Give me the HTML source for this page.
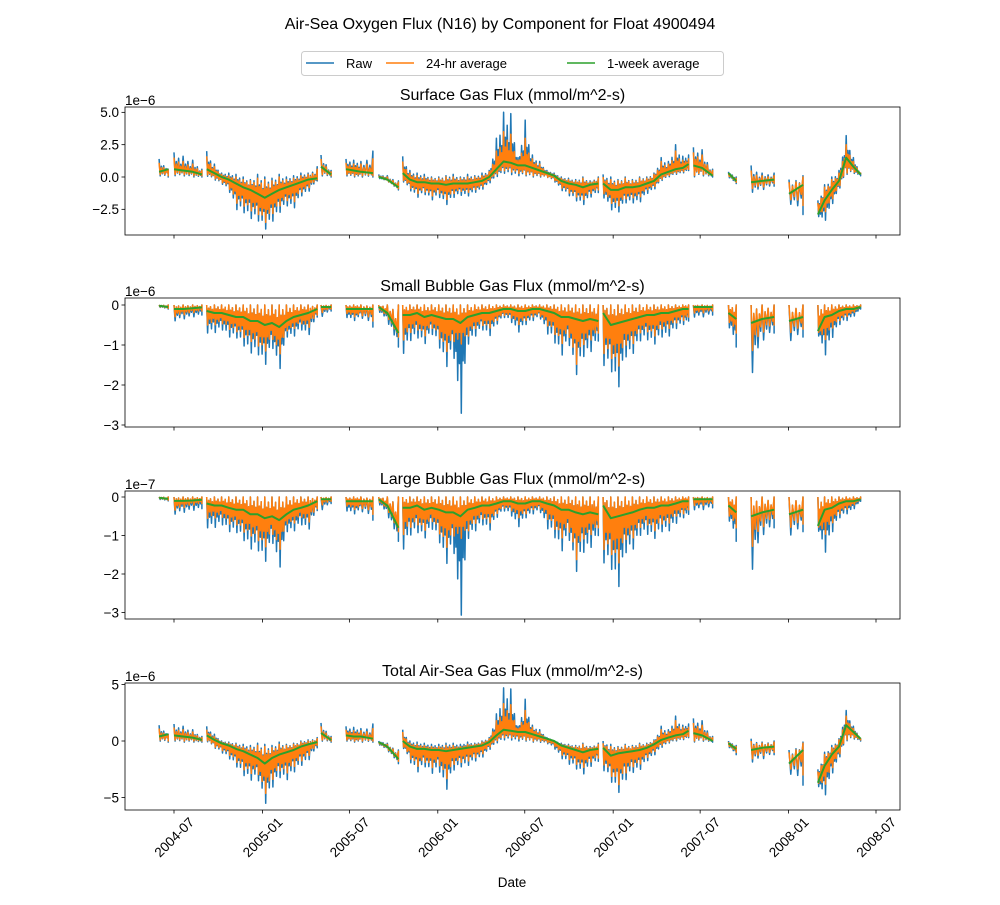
<!DOCTYPE html>
<html><head><meta charset="utf-8"><style>
body{margin:0;background:#fff}
svg text{font-family:"Liberation Sans","DejaVu Sans",sans-serif;fill:#000}
</style></head><body>
<svg id="fig" width="1000" height="900" viewBox="0 0 1000 900" xmlns="http://www.w3.org/2000/svg">
<rect width="1000" height="900" fill="#fff"/>
<text x="500" y="29" font-size="16" text-anchor="middle">Air-Sea Oxygen Flux (N16) by Component for Float 4900494</text>
<g>
<rect x="301.5" y="51.5" width="422" height="24" rx="3" fill="#fff" stroke="#ccc"/>
<g><line x1="306" y1="63" x2="334" y2="63" stroke="#1f77b4" stroke-width="1.5"/><text x="346" y="68" font-size="13">Raw</text></g>
<g><line x1="386" y1="63" x2="414" y2="63" stroke="#ff7f0e" stroke-width="1.5"/><text x="426" y="68" font-size="13">24-hr average</text></g>
<g><line x1="567" y1="63" x2="595" y2="63" stroke="#2ca02c" stroke-width="1.5"/><text x="607" y="68" font-size="13">1-week average</text></g>
</g>
<text x="512" y="887" font-size="13.5" text-anchor="middle">Date</text>
</svg>
<script>
// sample days since 2004-05-31; null marks gaps
const days=[0,19,null,
31,50,70,89,null,
99,115,130,145,160,175,190,205,220,235,250,265,280,295,310,329,null,
337,358,null,
389,405,420,445,null,
457,475,498,null,
507,522,537,552,567,582,597,612,627,642,657,672,687,702,717,732,747,762,777,792,807,822,837,852,867,882,897,914,null,
924,940,955,970,985,1000,1015,1030,1045,1060,1075,1090,1102,null,
1112,1130,1152,null,
1185,1201,null,
1232,1255,1280,null,
1311,1340,null,
1371,1385,1400,1415,1430,1445,1460];
const tickDays=[31,215,396,580,761,945,1126,1310,1492];
const tickLabels=["2004-07","2005-01","2005-07","2006-01","2006-07","2007-01","2007-07","2008-01","2008-07"];

// Surface flux (1e-6)
const surfRawHi=[1.4,0.6,null,1.9,1.6,1.3,0.6,null,
2.0,1.0,0.3,0.3,0.2,0.0,-0.2,0.2,0.0,-0.1,0.2,0.0,0.1,0.3,0.3,0.8,null,
1.7,0.5,null,1.4,1.3,1.2,2.0,null,0.2,0.1,-0.3,null,
1.6,0.5,0.3,0.2,0.0,0.0,0.1,0.2,0.0,0.2,0.1,0.3,0.5,3.0,5.0,4.9,1.5,4.4,1.7,1.2,0.5,0.3,0.0,-0.1,-0.2,0.0,-0.3,0.0,null,
0.2,0.0,-0.2,0.0,-0.2,0.0,0.0,0.3,1.5,1.2,2.5,1.6,1.7,null,
2.3,2.1,0.6,null,0.4,0.0,null,0.9,0.3,0.3,null,-0.2,0.1,null,
-1.8,-0.6,0.0,0.5,3.2,1.5,0.3];
const surfRawLo=[0.1,0.0,null,0.1,0.1,0.0,0.0,null,
0.1,-0.2,-0.5,-1.0,-2.5,-2.7,-3.2,-3.3,-4.1,-3.5,-2.8,-2.2,-2.5,-1.5,-1.2,-0.3,null,
0.1,0.0,null,0.1,0.0,0.0,0.0,null,-0.1,-0.3,-1.0,null,
-0.3,-1.0,-1.6,-1.3,-1.8,-1.5,-2.2,-1.6,-1.4,-1.5,-1.2,-1.0,-0.5,0.0,0.3,0.2,0.1,0.1,0.0,0.0,0.0,-0.3,-1.0,-1.4,-1.8,-2.2,-1.6,-1.2,null,
-1.5,-2.5,-2.8,-2.0,-2.0,-2.0,-1.3,-1.0,-0.3,0.0,0.2,0.3,0.5,null,
0.0,0.1,0.0,null,0.0,-0.5,null,-1.2,-1.0,-0.7,null,-2.0,-2.9,null,
-3.0,-3.5,-2.2,-1.0,0.2,0.3,0.1];
const surfDayHi=[1.1,0.5,null,1.5,1.2,1.0,0.5,null,
1.6,0.8,0.2,0.1,0.0,-0.2,-0.3,-0.1,-0.2,-0.3,0.0,-0.2,-0.1,0.1,0.2,0.6,null,
1.4,0.4,null,1.1,1.0,1.0,1.4,null,0.1,0.0,-0.4,null,
1.2,0.3,0.1,0.0,-0.1,-0.1,0.0,0.0,-0.1,0.0,0.0,0.1,0.4,2.0,3.5,3.3,1.3,3.0,1.4,1.0,0.4,0.2,-0.1,-0.2,-0.3,-0.1,-0.4,-0.1,null,
0.0,-0.2,-0.3,-0.1,-0.3,-0.1,-0.1,0.2,1.2,1.0,2.0,1.3,1.4,null,
1.9,1.7,0.5,null,0.3,-0.1,null,0.5,0.1,0.1,null,-0.4,0.0,null,
-2.0,-0.8,-0.2,0.3,2.5,1.2,0.3];
const surfDayLo=[0.2,0.1,null,0.2,0.2,0.1,0.1,null,
0.2,-0.1,-0.4,-0.8,-2.0,-2.2,-2.6,-2.8,-3.6,-2.9,-2.3,-1.8,-2.0,-1.2,-0.9,-0.2,null,
0.2,0.1,null,0.2,0.1,0.1,0.1,null,0.0,-0.3,-0.9,null,
-0.2,-0.8,-1.3,-1.1,-1.5,-1.2,-1.8,-1.3,-1.1,-1.2,-1.0,-0.8,-0.3,0.2,0.5,0.4,0.3,0.2,0.1,0.1,0.0,-0.2,-0.8,-1.2,-1.5,-1.8,-1.3,-1.0,null,
-1.2,-2.0,-2.3,-1.7,-1.6,-1.6,-1.0,-0.8,-0.2,0.1,0.3,0.4,0.6,null,
0.1,0.2,0.1,null,0.1,-0.4,null,-0.9,-0.8,-0.5,null,-1.7,-2.2,null,
-2.8,-2.8,-1.8,-0.8,0.3,0.4,0.2];
const surfWeek=[0.4,0.6,null,0.6,0.5,0.4,0.2,null,
0.6,0.3,0.0,-0.2,-0.5,-0.8,-1.0,-1.3,-1.6,-1.3,-1.0,-0.8,-0.6,-0.4,-0.2,-0.1,null,
0.8,0.2,null,0.6,0.5,0.4,0.3,null,0.0,-0.2,-0.8,null,
0.3,-0.2,-0.4,-0.4,-0.5,-0.5,-0.6,-0.5,-0.5,-0.5,-0.4,-0.3,0.0,0.6,1.2,1.1,0.9,0.9,0.7,0.5,0.3,0.1,-0.3,-0.5,-0.6,-0.8,-0.6,-0.5,null,
-0.5,-1.0,-1.0,-0.8,-0.8,-0.7,-0.5,-0.3,0.2,0.4,0.6,0.7,1.0,null,
0.9,0.7,0.1,null,0.3,-0.3,null,-0.4,-0.3,-0.2,null,-1.3,-0.6,null,
-2.9,-1.8,-1.0,-0.3,1.5,0.8,0.2];

// Small bubble flux (1e-6)
const smallRawLo=[-0.05,-0.1,null,-0.4,-0.35,-0.3,-0.25,null,
-0.7,-0.7,-0.6,-0.8,-0.8,-1.0,-1.2,-1.2,-1.55,-1.0,-1.7,-0.8,-0.8,-0.6,-0.8,-0.3,null,
-0.3,-0.15,null,-0.3,-0.4,-0.3,-0.55,null,-0.15,-0.4,-1.05,null,
-1.25,-0.9,-0.8,-1.0,-0.7,-1.0,-1.6,-1.1,-2.95,-1.0,-0.8,-0.6,-0.8,-0.5,-0.3,-0.4,-0.7,-0.5,-0.4,-0.3,-0.7,-0.9,-1.3,-0.9,-1.8,-1.3,-1.2,-0.9,null,
-1.5,-1.6,-2.15,-1.3,-1.25,-0.9,-0.85,-1.0,-0.8,-0.8,-0.6,-0.5,-0.4,null,
-0.3,-0.3,-0.25,null,-0.5,-1.05,null,-1.8,-0.9,-0.7,null,-0.9,-0.8,null,
-0.7,-1.3,-0.85,-0.5,-0.4,-0.3,-0.1];
const smallDayLo=[-0.04,-0.08,null,-0.3,-0.25,-0.2,-0.15,null,
-0.5,-0.5,-0.45,-0.6,-0.65,-0.8,-0.9,-1.0,-1.2,-0.8,-1.3,-0.65,-0.6,-0.45,-0.6,-0.25,null,
-0.2,-0.1,null,-0.2,-0.3,-0.25,-0.4,null,-0.1,-0.3,-0.8,null,
-0.9,-0.7,-0.6,-0.8,-0.55,-0.8,-1.2,-0.9,-1.0,-0.8,-0.6,-0.5,-0.6,-0.4,-0.25,-0.3,-0.5,-0.4,-0.3,-0.25,-0.5,-0.7,-1.0,-0.7,-1.55,-1.0,-0.9,-0.7,null,
-1.2,-1.3,-1.6,-1.0,-1.0,-0.7,-0.65,-0.8,-0.6,-0.6,-0.45,-0.4,-0.3,null,
-0.2,-0.2,-0.15,null,-0.4,-0.7,null,-1.2,-0.7,-0.5,null,-0.7,-0.6,null,
-0.65,-0.9,-0.6,-0.4,-0.3,-0.2,-0.05];
const smallWeek=[-0.02,-0.05,null,-0.1,-0.1,-0.08,-0.06,null,
-0.15,-0.2,-0.2,-0.25,-0.3,-0.3,-0.4,-0.4,-0.5,-0.45,-0.55,-0.4,-0.3,-0.25,-0.2,-0.1,null,
-0.05,-0.05,null,-0.1,-0.1,-0.1,-0.1,null,-0.05,-0.2,-0.7,null,
-0.25,-0.25,-0.2,-0.3,-0.25,-0.3,-0.35,-0.35,-0.45,-0.3,-0.25,-0.2,-0.2,-0.15,-0.1,-0.1,-0.15,-0.15,-0.1,-0.1,-0.15,-0.2,-0.3,-0.3,-0.35,-0.4,-0.35,-0.4,null,
-0.2,-0.5,-0.45,-0.4,-0.35,-0.3,-0.25,-0.25,-0.2,-0.2,-0.15,-0.1,-0.1,null,
-0.05,-0.05,-0.05,null,-0.2,-0.35,null,-0.45,-0.35,-0.3,null,-0.4,-0.3,null,
-0.65,-0.3,-0.25,-0.15,-0.1,-0.1,-0.05];

// Large bubble flux (1e-7)
const largeRawLo=[-0.06,-0.1,null,-0.45,-0.4,-0.35,-0.3,null,
-0.8,-0.8,-0.7,-0.9,-0.9,-1.1,-1.35,-1.35,-1.75,-1.1,-1.95,-0.9,-0.9,-0.7,-0.9,-0.35,null,
-0.35,-0.17,null,-0.35,-0.45,-0.35,-0.6,null,-0.17,-0.45,-1.15,null,
-1.4,-1.0,-0.9,-1.1,-0.8,-1.1,-1.8,-1.2,-3.35,-1.1,-0.9,-0.7,-0.9,-0.55,-0.35,-0.45,-0.8,-0.55,-0.45,-0.35,-0.8,-1.0,-1.45,-1.0,-2.0,-1.45,-1.35,-1.0,null,
-1.7,-1.8,-2.45,-1.45,-1.4,-1.0,-0.95,-1.1,-0.9,-0.9,-0.7,-0.55,-0.45,null,
-0.33,-0.33,-0.28,null,-0.55,-1.15,null,-2.0,-1.0,-0.8,null,-1.0,-0.9,null,
-0.8,-1.5,-0.95,-0.55,-0.45,-0.33,-0.11];
const largeDayLo=[-0.04,-0.08,null,-0.35,-0.28,-0.22,-0.17,null,
-0.55,-0.55,-0.5,-0.7,-0.7,-0.9,-1.0,-1.1,-1.35,-0.9,-1.45,-0.7,-0.7,-0.5,-0.7,-0.3,null,
-0.22,-0.11,null,-0.22,-0.33,-0.28,-0.45,null,-0.11,-0.33,-0.9,null,
-1.0,-0.8,-0.7,-0.9,-0.6,-0.9,-1.35,-1.0,-1.1,-0.9,-0.7,-0.55,-0.7,-0.45,-0.28,-0.33,-0.55,-0.45,-0.33,-0.28,-0.55,-0.8,-1.1,-0.8,-1.7,-1.1,-1.0,-0.8,null,
-1.35,-1.45,-1.8,-1.1,-1.1,-0.8,-0.7,-0.9,-0.7,-0.7,-0.5,-0.45,-0.33,null,
-0.22,-0.22,-0.17,null,-0.45,-0.8,null,-1.35,-0.8,-0.55,null,-0.8,-0.7,null,
-0.75,-1.0,-0.7,-0.45,-0.33,-0.22,-0.06];
const largeWeek=[-0.02,-0.05,null,-0.1,-0.1,-0.09,-0.07,null,
-0.17,-0.22,-0.22,-0.28,-0.33,-0.33,-0.45,-0.45,-0.55,-0.5,-0.6,-0.45,-0.33,-0.28,-0.22,-0.11,null,
-0.06,-0.06,null,-0.11,-0.11,-0.11,-0.11,null,-0.06,-0.22,-0.8,null,
-0.28,-0.28,-0.22,-0.33,-0.28,-0.33,-0.4,-0.4,-0.5,-0.33,-0.28,-0.22,-0.22,-0.17,-0.11,-0.11,-0.17,-0.17,-0.11,-0.11,-0.17,-0.22,-0.33,-0.33,-0.4,-0.45,-0.4,-0.45,null,
-0.22,-0.55,-0.5,-0.45,-0.4,-0.33,-0.28,-0.28,-0.22,-0.22,-0.17,-0.11,-0.11,null,
-0.06,-0.06,-0.06,null,-0.22,-0.4,null,-0.5,-0.4,-0.33,null,-0.45,-0.33,null,
-0.75,-0.33,-0.28,-0.17,-0.11,-0.11,-0.06];

// Total flux (1e-6)
const totRawHi=[1.4,0.6,null,1.5,1.3,1.0,0.4,null,
1.3,0.6,0.0,-0.1,-0.2,-0.3,-0.4,-0.2,-0.3,-0.4,-0.1,-0.3,-0.2,0.0,0.1,0.3,null,
1.6,0.4,null,1.3,1.2,1.1,1.5,null,0.0,-0.2,-0.8,null,
1.0,0.0,-0.1,-0.2,-0.3,-0.3,-0.2,-0.2,-0.3,-0.1,-0.2,0.0,0.3,2.4,4.7,4.6,1.3,3.7,1.4,1.0,0.3,0.0,-0.2,-0.3,-0.4,-0.2,-0.5,-0.2,null,
0.0,-0.3,-0.5,-0.3,-0.4,-0.2,-0.2,0.1,1.3,1.0,2.2,1.4,1.5,null,
2.0,1.8,0.4,null,0.0,-0.4,null,0.2,-0.1,0.0,null,-0.8,-0.1,null,
-2.5,-1.0,-0.4,0.2,2.7,1.3,0.2];
const totRawLo=[0.0,-0.1,null,0.0,-0.1,-0.1,-0.1,null,
0.0,-0.6,-1.0,-1.5,-2.2,-3.0,-3.5,-3.2,-5.7,-4.2,-3.2,-3.5,-2.8,-2.2,-1.8,-0.6,null,
0.0,-0.1,null,0.0,-0.1,-0.1,-0.1,null,-0.3,-0.8,-2.0,null,
-0.5,-1.8,-2.8,-2.2,-2.9,-2.5,-4.5,-2.6,-2.3,-2.2,-1.8,-1.5,-0.8,-0.2,0.1,0.1,0.0,0.0,-0.1,-0.1,-0.2,-0.6,-1.5,-2.0,-2.4,-3.0,-2.3,-1.8,null,
-2.5,-3.5,-4.7,-3.5,-2.8,-2.6,-1.8,-1.3,-0.6,-0.2,0.0,0.1,0.3,null,
-0.1,0.0,-0.1,null,-0.5,-1.2,null,-1.9,-1.6,-1.2,null,-2.8,-3.9,null,
-3.9,-5.0,-3.0,-1.6,0.0,0.2,0.0];
const totDayHi=[1.1,0.4,null,1.2,1.0,0.8,0.3,null,
1.0,0.4,-0.1,-0.2,-0.3,-0.5,-0.6,-0.4,-0.5,-0.6,-0.3,-0.4,-0.3,-0.1,0.0,0.2,null,
1.3,0.3,null,1.0,0.9,0.9,1.1,null,-0.1,-0.3,-0.9,null,
0.8,-0.2,-0.3,-0.4,-0.5,-0.5,-0.4,-0.4,-0.5,-0.3,-0.3,-0.1,0.2,1.8,3.3,3.2,1.1,2.7,1.2,0.8,0.2,-0.1,-0.3,-0.4,-0.5,-0.3,-0.6,-0.3,null,
-0.2,-0.5,-0.6,-0.4,-0.5,-0.3,-0.3,0.0,1.0,0.8,1.8,1.2,1.2,null,
1.6,1.4,0.3,null,-0.1,-0.5,null,0.0,-0.2,-0.1,null,-1.0,-0.2,null,
-2.7,-1.2,-0.6,0.1,2.2,1.1,0.2];
const totDayLo=[0.1,0.0,null,0.1,0.0,0.0,0.0,null,
0.1,-0.5,-0.8,-1.2,-1.8,-2.5,-2.9,-2.7,-4.8,-3.5,-2.6,-2.9,-2.3,-1.8,-1.4,-0.4,null,
0.1,0.0,null,0.1,0.0,0.0,0.0,null,-0.2,-0.7,-1.8,null,
-0.4,-1.5,-2.3,-1.8,-2.4,-2.0,-3.5,-2.1,-1.9,-1.8,-1.5,-1.2,-0.6,0.0,0.3,0.3,0.2,0.1,0.0,0.0,-0.1,-0.4,-1.2,-1.6,-2.0,-2.4,-1.9,-1.5,null,
-2.0,-3.0,-4.0,-2.9,-2.3,-2.1,-1.5,-1.0,-0.4,-0.1,0.1,0.2,0.4,null,
0.0,0.1,0.0,null,-0.4,-1.0,null,-1.6,-1.3,-1.0,null,-2.4,-3.0,null,
-3.7,-4.0,-2.5,-1.3,0.1,0.3,0.1];
const totWeek=[0.4,0.6,null,0.5,0.4,0.3,0.1,null,
0.5,0.1,-0.2,-0.4,-0.7,-0.9,-1.2,-1.5,-2.0,-1.5,-1.2,-1.0,-0.8,-0.5,-0.3,-0.1,null,
0.7,0.1,null,0.5,0.4,0.4,0.2,null,-0.1,-0.5,-1.6,null,
0.0,-0.5,-0.7,-0.7,-0.8,-0.8,-0.9,-0.8,-0.7,-0.6,-0.5,-0.4,-0.1,0.5,1.0,0.9,0.8,0.8,0.6,0.4,0.2,0.0,-0.4,-0.6,-0.8,-1.0,-0.8,-0.7,null,
-0.6,-1.3,-1.1,-1.0,-0.9,-0.8,-0.6,-0.3,0.1,0.3,0.5,0.6,0.9,null,
0.7,0.5,0.0,null,-0.2,-0.7,null,-0.8,-0.6,-0.5,null,-2.0,-0.8,null,
-3.7,-2.2,-1.2,-0.5,1.4,0.8,0.2];

const NS="http://www.w3.org/2000/svg";
const fig=document.getElementById('fig');
const X0=125,X1=900;
function xScale(d){return 174+(d-31)*(702/1461);}
function mk(tag,attrs,parent){const e=document.createElementNS(NS,tag);for(const k in attrs)e.setAttribute(k,attrs[k]);(parent||fig).appendChild(e);return e;}
// rendering style: spike amplitude pattern inside each sample interval
const upAmp=[1,0.5,0.75,0.4];
const dnAmp=[1,0.55,0.8,0.45];
function spikes(hi,lo,base,yS){let d="";let pen=false;
 for(let i=0;i<days.length;i++){
  const ok=days[i]!==null&&lo[i]!==null;
  if(!ok){pen=false;continue;}
  const okN=i+1<days.length&&days[i+1]!==null&&lo[i+1]!==null;
  const h0=hi?hi[i]:0,b0=base[i];
  const xa=xScale(days[i]);
  if(!okN){d+=(pen?"L":"M")+xa.toFixed(1)+","+yS(h0).toFixed(1)+"L"+xa.toFixed(1)+","+yS(lo[i]).toFixed(1)+"L"+xa.toFixed(1)+","+yS(b0).toFixed(1);pen=false;continue;}
  const h1=hi?hi[i+1]:0,b1=base[i+1];
  const xb=xScale(days[i+1]);const n=upAmp.length;
  for(let s=0;s<n;s++){const t=s/n,t2=(s+0.5)/n;
   const bv=b0+(b1-b0)*t,bv2=b0+(b1-b0)*t2;
   const hv=h0+(h1-h0)*t;const lv=lo[i]+(lo[i+1]-lo[i])*t2;
   const up=bv+(hv-bv)*upAmp[s],dn=bv2+(lv-bv2)*dnAmp[s];
   const x1=xa+(xb-xa)*t,x2=xa+(xb-xa)*t2;
   d+=(pen?"L":"M")+x1.toFixed(1)+","+yS(up).toFixed(1);pen=true;
   d+="L"+x2.toFixed(1)+","+yS(dn).toFixed(1);
  }
 }
 return d;}
function lineD(v,yS){let d="",pen=false;for(let i=0;i<days.length;i++){if(days[i]===null||v[i]===null){pen=false;continue;}d+=(pen?"L":"M")+xScale(days[i]).toFixed(1)+","+yS(v[i]).toFixed(1);pen=true;}return d;}

const panels=[
 {name:"surface",top:107,bot:235,zero:177,ppu:12.93,ticks:[5,2.5,0,-2.5],fmt:v=>v.toFixed(1),title:"Surface Gas Flux (mmol/m^2-s)",off:"1e\u22126",rawHi:surfRawHi,rawLo:surfRawLo,dayHi:surfDayHi,dayLo:surfDayLo,week:surfWeek},
 {name:"small-bubble",top:298,bot:427,zero:305,ppu:40,ticks:[0,-1,-2,-3],fmt:v=>String(v),title:"Small Bubble Gas Flux (mmol/m^2-s)",off:"1e\u22126",rawHi:null,rawLo:smallRawLo,dayHi:null,dayLo:smallDayLo,week:smallWeek},
 {name:"large-bubble",top:491,bot:619,zero:497,ppu:38.5,ticks:[0,-1,-2,-3],fmt:v=>String(v),title:"Large Bubble Gas Flux (mmol/m^2-s)",off:"1e\u22127",rawHi:null,rawLo:largeRawLo,dayHi:null,dayLo:largeDayLo,week:largeWeek},
 {name:"total",top:683,bot:810,zero:741,ppu:11.3,ticks:[5,0,-5],fmt:v=>String(v),title:"Total Air-Sea Gas Flux (mmol/m^2-s)",off:"1e\u22126",rawHi:totRawHi,rawLo:totRawLo,dayHi:totDayHi,dayLo:totDayLo,week:totWeek}
];
panels.forEach((p,pi)=>{
 const yS=v=>p.zero-v*p.ppu;
 const g=mk('g',{});
 
 
 const cp=mk('clipPath',{id:'clip'+pi},g);mk('rect',{x:X0,y:p.top,width:X1-X0,height:p.bot-p.top},cp);
 const series=mk('g',{'clip-path':'url(#clip'+pi+')'},g);
 const raw=mk('path',{d:spikes(p.rawHi,p.rawLo,p.week,yS),fill:'none',stroke:'#1f77b4','stroke-width':1.5,'stroke-linejoin':'round'},series);
 
 
 const day=mk('path',{d:spikes(p.dayHi,p.dayLo,p.week,yS),fill:'none',stroke:'#ff7f0e','stroke-width':1.5,'stroke-linejoin':'round'},series);
 
 
 const wk=mk('path',{d:lineD(p.week,yS),fill:'none',stroke:'#2ca02c','stroke-width':2,'stroke-linejoin':'round'},series);
 
 
 const fr=mk('rect',{x:X0,y:p.top,width:X1-X0,height:p.bot-p.top,fill:'none',stroke:'#000','stroke-width':0.8},g);
 
 
 p.ticks.forEach(v=>{const y=yS(v);
  mk('line',{x1:X0-3.5,x2:X0,y1:y,y2:y,stroke:'#000','stroke-width':0.8},g);
  const t=mk('text',{x:X0-6,y:y+4.8,'font-size':13.5,'text-anchor':'end'},g);t.textContent=p.fmt(v).replace('-','\u2212');
  
  
 });
 tickDays.forEach((d,k)=>{const x=xScale(d);
  mk('line',{x1:x,x2:x,y1:p.bot,y2:p.bot+3.5,stroke:'#000','stroke-width':0.8},g);
  if(pi===3){const t=mk('text',{x:x,y:842,'font-size':13.5,'text-anchor':'middle',transform:'rotate(-45 '+x+' 837)'},g);t.textContent=tickLabels[k];
   
   }
 });
 const tt=mk('text',{x:512.5,y:p.top-7,'font-size':16,'text-anchor':'middle'},g);tt.textContent=p.title;
 
 
 const ot=mk('text',{x:X0,y:p.top-2,'font-size':13.5},g);ot.textContent=p.off;
 
 
});
</script>
</body></html>
